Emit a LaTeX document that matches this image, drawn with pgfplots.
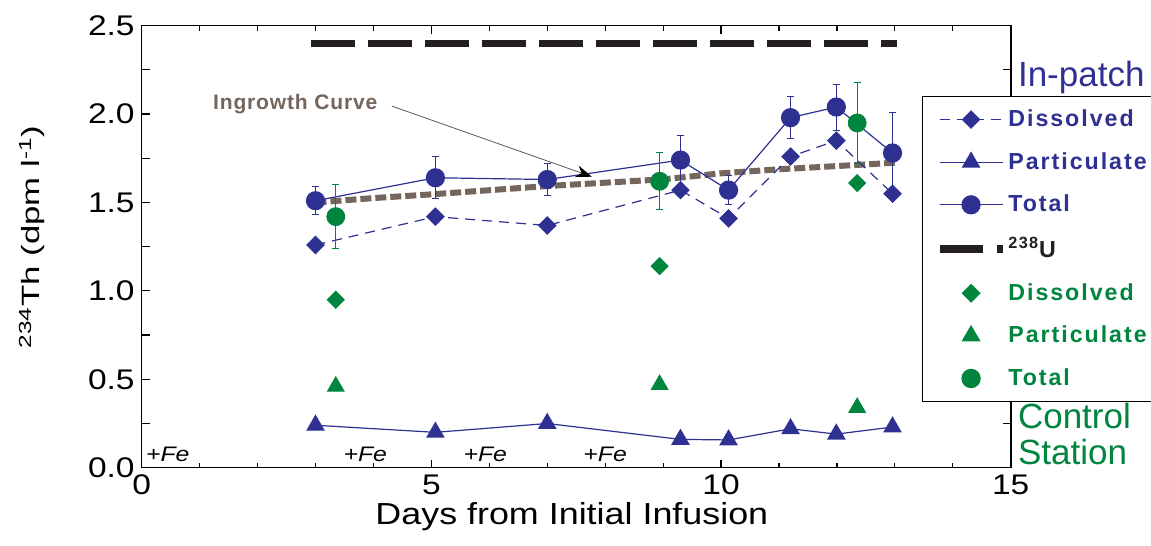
\documentclass[border=0pt]{standalone}
\usepackage{fontspec}
\setmainfont{Liberation Sans}
\newfontfamily\wfont[FakeStretch=1.18]{Liberation Sans}
\newfontfamily\ylabfont[FakeStretch=1.39]{Liberation Sans}
\newfontfamily\legfont[LetterSpace=8.5]{Liberation Sans}
\newfontfamily\notefont[LetterSpace=4]{Liberation Sans}
\usepackage{pgfplots}
\usepackage{pgfplotstable}
\pgfplotsset{compat=1.18}
\usetikzlibrary{arrows.meta,calc}

\definecolor{pblue}{HTML}{2E3192}
\definecolor{cgreen}{HTML}{00853F}
\definecolor{ubl}{HTML}{231F20}
\definecolor{ingr}{HTML}{74655D}

% in-patch: day, dissolved, particulate, total, error of total
\pgfplotstableread{
x     diss  part  tot   err
3.00  1.26  0.24  1.51  0.08
5.07  1.42  0.20  1.64  0.12
7.00  1.37  0.25  1.63  0.09
9.30  1.57  0.16  1.74  0.14
10.13 1.41  0.157 1.57  0.08
11.20 1.76  0.22  1.98  0.12
11.99 1.85  0.19  2.04  0.13
12.96 1.55  0.23  1.78  0.23
}\inpatch

% control station
\pgfplotstableread{
x     diss  part  tot   err
3.35  0.95  0.46  1.42  0.18
8.94  1.14  0.47  1.62  0.16
12.35 1.61  0.34  1.95  0.23
}\control

\begin{document}
\begin{tikzpicture}
\begin{axis}[
  name=ax,
  scale only axis,
  width=434.5pt, height=221pt,
  xmin=0, xmax=15, ymin=0, ymax=2.5,
  clip=false,
  xtick={0,5,10,15},
  minor xtick={1,2,3,4,6,7,8,9,11,12,13,14},
  ytick={0,0.5,...,2.5},
  extra y ticks={0.25,0.75,1.25,1.75,2.25},
  extra y tick labels={},
  tick align=inside,
  major tick length=4pt, minor tick length=2.5pt,
  axis line style={line width=0.8pt, black},
  every tick/.style={black, line width=0.6pt},
  tick label style={font=\wfont\fontsize{14.2}{17}\selectfont},
  /pgf/number format/assume math mode=true,
  yticklabel style={/pgf/number format/.cd, fixed, fixed zerofill, precision=1},
  xlabel={\wfont\fontsize{15.2}{18}\selectfont Days from Initial Infusion},
  xlabel style={at={(axis description cs:0.495,0)}, anchor=base, yshift=-28.65pt},
  ylabel={\ylabfont\fontsize{12.5}{15}\selectfont\textsuperscript{234}Th (dpm l\textsuperscript{-1})},
  ylabel style={at={(axis description cs:-0.1262,0.522)}, anchor=center},
  legend image code/.code={\draw[mark repeat=2,mark phase=2,#1] plot coordinates {(0pt,0pt) (15.75pt,0pt) (31.5pt,0pt)};},
  legend style={at={(0.898,0.841)}, anchor=north west, draw=black, line width=0.7pt,
    fill=white, inner xsep=6.5pt, inner ysep=5.5pt, row sep=9.4pt, column sep=0pt,
    font=\legfont\bfseries\fontsize{11.6}{14}\selectfont,
    nodes={inner sep=1pt, anchor=west}},
  legend cell align=left,
]
% ingrowth curve
\addplot[forget plot, ingr, line width=3pt, dash pattern=on 5.5pt off 2pt] coordinates {
  (3,1.50) (4,1.525) (5,1.546) (7,1.593) (9,1.631) (10,1.665) (11,1.688) (12,1.706) (13,1.725)
};
% in-patch
\addplot[pblue, line width=0.6pt, dash pattern=on 5pt off 3.5pt,
  mark=square*, mark size=3pt, mark options={solid, rotate=45, fill=pblue}]
  table[x=x, y=diss] {\inpatch};
\addlegendentry{\textcolor{pblue}{Dissolved}}
\addplot[pblue, line width=0.6pt, mark=triangle*, mark size=4.8pt, mark options={fill=pblue}]
  table[x=x, y=part] {\inpatch};
\addlegendentry{\textcolor{pblue}{Particulate}}
\addplot[pblue, line width=0.6pt, mark=*, mark size=4.5pt, mark options={fill=pblue},
  error bars/.cd, y dir=both, y explicit,
  error bar style={pblue, line width=0.5pt},
  error mark options={rotate=90, mark size=1.75pt, pblue, line width=0.5pt}]
  table[x=x, y=tot, y error=err] {\inpatch};
\addlegendentry{\textcolor{pblue}{Total}}
% 238U
\addplot[ubl, line width=3.8pt, dash pattern=on 21.65pt off 6.85pt, line cap=butt] coordinates {
  (2.93,2.4) (13.03,2.4)
};
\addlegendentry{\textcolor{ubl}{\textsuperscript{238}U}}
% control station
\addplot[only marks, cgreen, mark=square*, mark size=3pt, mark options={rotate=45, fill=cgreen}]
  table[x=x, y=diss] {\control};
\addlegendentry{\textcolor{cgreen}{Dissolved}}
\addplot[only marks, cgreen, mark=triangle*, mark size=4.8pt, mark options={fill=cgreen}]
  table[x=x, y=part] {\control};
\addlegendentry{\textcolor{cgreen}{Particulate}}
\addplot[only marks, cgreen, mark=*, mark size=4.5pt, mark options={fill=cgreen},
  error bars/.cd, y dir=both, y explicit,
  error bar style={cgreen, line width=0.5pt},
  error mark options={rotate=90, mark size=1.75pt, cgreen, line width=0.5pt}]
  table[x=x, y=tot, y error=err] {\control};
\addlegendentry{\textcolor{cgreen}{Total}}

% annotations
\node[ingr, font=\notefont\bfseries\fontsize{10.5}{12}\selectfont] at (axis cs:2.65,2.056) {Ingrowth Curve};
\draw[gray!70!black, line width=0.4pt, -{Stealth[length=8pt, width=6pt, black]}]
  (axis cs:4.32,2.045) -- (axis cs:7.77,1.646);
\node[anchor=base, inner sep=0pt, font=\wfont\itshape\fontsize{10.5}{12}\selectfont] at (axis cs:0.45,0.034) {+Fe};
\node[anchor=base, inner sep=0pt, font=\wfont\itshape\fontsize{10.5}{12}\selectfont] at (axis cs:3.86,0.034) {+Fe};
\node[anchor=base, inner sep=0pt, font=\wfont\itshape\fontsize{10.5}{12}\selectfont] at (axis cs:5.93,0.034) {+Fe};
\node[anchor=base, inner sep=0pt, font=\wfont\itshape\fontsize{10.5}{12}\selectfont] at (axis cs:8.0,0.034) {+Fe};
\node[anchor=base west, inner sep=0pt, pblue, font=\fontsize{17.5}{20}\selectfont] at (axis cs:15.12,2.155) {In-patch};
\node[anchor=base west, inner sep=0pt, cgreen, font=\fontsize{17.5}{20}\selectfont] at (axis cs:15.12,0.2245) {Control};
\node[anchor=base west, inner sep=0pt, cgreen, font=\fontsize{17.5}{20}\selectfont] at (axis cs:15.12,0.0153) {Station};
\end{axis}
\pgfresetboundingbox
\path ($(ax.south west)+(-70.85pt,-39.15pt)$) rectangle ($(ax.north east)+(70.15pt,12.85pt)$);
\end{tikzpicture}
\end{document}
